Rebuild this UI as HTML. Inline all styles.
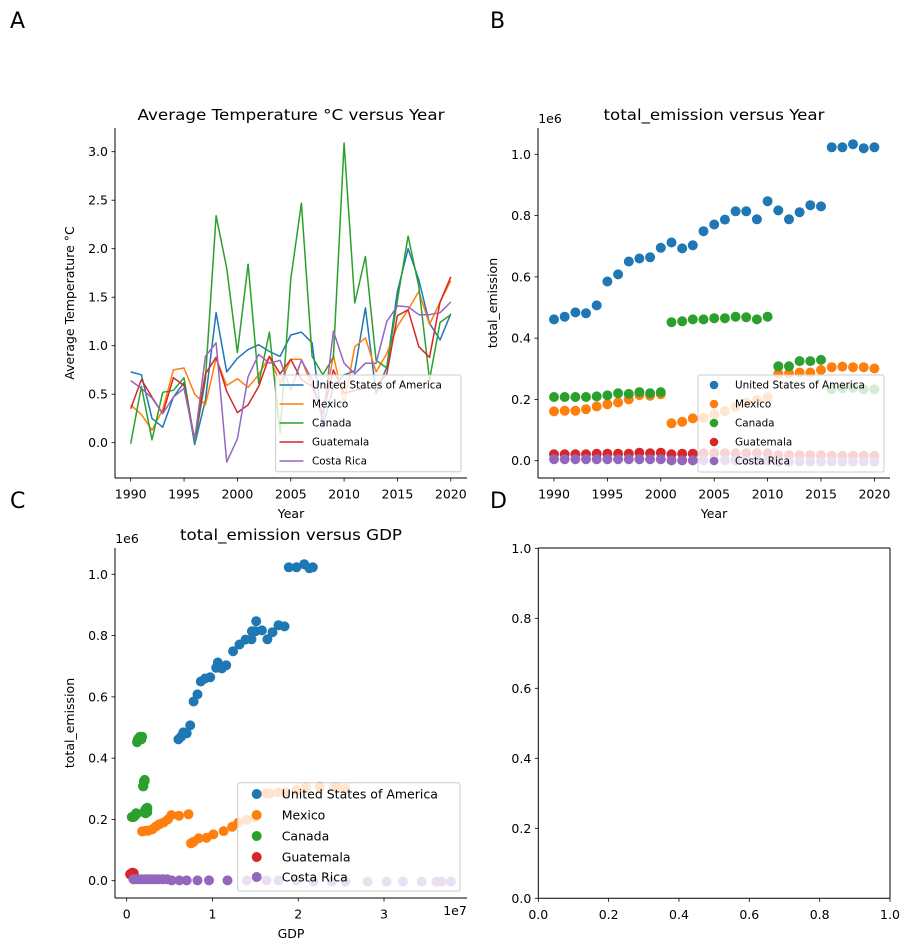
<!DOCTYPE html>
<html><head><meta charset="utf-8"><style>
html,body{margin:0;padding:0;background:#fff;}
svg{display:block;font-family:"DejaVu Sans","Liberation Sans",sans-serif;}
</style></head><body>
<svg id="fig" width="911" height="951" viewBox="0 0 911 951" xmlns="http://www.w3.org/2000/svg"></svg>
<script>
const countries = ["United States of America","Mexico","Canada","Guatemala","Costa Rica"];
const colors = ["#1f77b4","#ff7f0e","#2ca02c","#d62728","#9467bd"];
const years = [1990,1991,1992,1993,1994,1995,1996,1997,1998,1999,2000,2001,2002,2003,2004,2005,2006,2007,2008,2009,2010,2011,2012,2013,2014,2015,2016,2017,2018,2019,2020];
// Average temperature anomaly (°C)
const tempUSA = [0.73,0.70,0.25,0.16,0.47,0.62,-0.02,0.44,1.34,0.73,0.87,0.96,1.01,0.94,0.89,1.11,1.14,1.03,0.16,0.58,0.70,0.74,1.39,0.51,0.78,1.56,2.00,1.68,1.23,1.06,1.33];
const tempMEX = [0.39,0.29,0.13,0.34,0.75,0.77,0.50,0.39,0.87,0.59,0.66,0.57,0.70,0.89,0.61,0.86,0.86,0.58,0.30,0.90,0.40,0.99,1.08,0.73,0.92,1.20,1.37,1.56,1.22,1.45,1.67];
const tempCAN = [-0.01,0.58,0.03,0.52,0.54,0.67,0.00,0.65,2.34,1.80,0.93,1.84,0.61,1.14,0.10,1.69,2.47,0.89,0.70,0.88,3.09,1.44,1.92,0.85,0.77,1.47,2.13,1.61,0.65,1.24,1.32];
const tempGTM = [0.35,0.65,0.47,0.30,0.67,0.59,0.04,0.71,0.88,0.53,0.31,0.39,0.58,0.89,0.71,0.86,0.65,0.58,0.30,0.75,0.51,0.54,0.56,0.58,0.71,1.31,1.37,0.99,0.88,1.45,1.71];
const tempCRI = [0.64,0.56,0.46,0.30,0.47,0.56,0.03,0.89,1.03,-0.20,0.04,0.68,0.91,0.82,0.85,0.54,0.85,0.65,0.23,1.15,0.82,0.71,0.82,0.82,1.25,1.41,1.40,1.32,1.32,1.34,1.45];
// total emission (x1e6)
const emUSA = [0.461,0.470,0.484,0.481,0.507,0.585,0.608,0.650,0.660,0.664,0.695,0.712,0.693,0.703,0.749,0.771,0.787,0.814,0.814,0.788,0.847,0.817,0.788,0.811,0.834,0.830,1.023,1.023,1.033,1.020,1.023];
const emMEX = [0.161,0.163,0.163,0.168,0.177,0.184,0.190,0.200,0.214,0.212,0.217,0.122,0.127,0.138,0.140,0.151,0.162,0.176,0.189,0.198,0.207,0.285,0.285,0.288,0.288,0.296,0.305,0.307,0.305,0.305,0.301];
const emCAN = [0.208,0.208,0.208,0.208,0.210,0.213,0.220,0.218,0.224,0.220,0.224,0.452,0.455,0.461,0.461,0.465,0.465,0.470,0.468,0.461,0.470,0.308,0.308,0.325,0.325,0.329,0.233,0.236,0.238,0.233,0.233];
const emGTM = [0.021,0.021,0.021,0.021,0.023,0.023,0.023,0.023,0.026,0.024,0.026,0.021,0.023,0.023,0.024,0.024,0.024,0.024,0.024,0.024,0.024,0.018,0.018,0.018,0.018,0.018,0.016,0.016,0.016,0.016,0.016];
const emCRI = [0.005,0.005,0.005,0.005,0.005,0.005,0.005,0.005,0.005,0.005,0.005,0.001,0.001,0.001,0.001,0.001,0.001,0.001,0.001,0.001,0.001,-0.003,-0.003,-0.003,-0.003,-0.003,-0.003,-0.003,-0.003,-0.003,-0.003];
// GDP (x1e7)
const gdpUSA = [0.603,0.634,0.66,0.70,0.74,0.78,0.825,0.864,0.914,0.973,1.043,1.062,1.11,1.16,1.24,1.315,1.385,1.46,1.50,1.455,1.51,1.576,1.64,1.70,1.77,1.84,1.89,1.98,2.07,2.13,2.17];
const gdpMEX = [0.18,0.22,0.25,0.30,0.34,0.38,0.43,0.48,0.52,0.61,0.72,0.75,0.78,0.84,0.93,1.01,1.13,1.23,1.30,1.40,1.50,1.62,1.67,1.77,1.85,1.98,2.09,2.25,2.42,2.45,2.55];
const gdpCAN = [0.06,0.07,0.075,0.08,0.09,0.10,0.11,0.115,0.20,0.22,0.24,0.12,0.125,0.13,0.135,0.14,0.15,0.155,0.16,0.17,0.18,0.19,0.195,0.20,0.21,0.21,0.22,0.23,0.24,0.235,0.24];
const gdpGTM = [0.04,0.045,0.05,0.05,0.055,0.055,0.06,0.06,0.065,0.065,0.07,0.07,0.07,0.07,0.075,0.075,0.075,0.08,0.08,0.08,0.08,0.08,0.08,0.08,0.08,0.08,0.08,0.08,0.08,0.08,0.08];
const gdpCRI = [0.078,0.109,0.14,0.175,0.214,0.253,0.292,0.33,0.37,0.42,0.47,0.525,0.615,0.70,0.825,0.96,1.175,1.40,1.63,1.77,1.98,2.18,2.39,2.55,2.81,3.03,3.22,3.44,3.61,3.67,3.78];
const tickYears = [1990,1995,2000,2005,2010,2015,2020];
const tickTemp = [0.0,0.5,1.0,1.5,2.0,2.5,3.0];
const tickEm = [0.0,0.2,0.4,0.6,0.8,1.0];
const tickGdp = [0,1,2,3];
const tickUnit = [0.0,0.2,0.4,0.6,0.8,1.0];

const temps = [tempUSA,tempMEX,tempCAN,tempGTM,tempCRI];
const ems = [emUSA,emMEX,emCAN,emGTM,emCRI];
const gdps = [gdpUSA,gdpMEX,gdpCAN,gdpGTM,gdpCRI];

const NS = "http://www.w3.org/2000/svg";
const fig = document.getElementById('fig');
function mk(tag, attrs, parent){
  const e = document.createElementNS(NS, tag);
  for (const k in attrs) e.setAttribute(k, attrs[k]);
  (parent||fig).appendChild(e);
  return e;
}
function txt(s, attrs, parent){ const t = mk('text', attrs, parent); t.textContent = s; return t; }

// axis functions
const xA = yr => 130.7 + (yr-1990)*10.67;
const yA = v => 442.7 - v*97.0;
const xB = yr => 554 + (yr-1990)*10.68;
const yB = v => 460.7 - v*306.4;
const xC = g => 126.7 + g*85.77;
const yC = v => 880.7 - v*306.4;
const xD = v => 538.3 + v*351.7;
const yD = v => 898.3 - v*350;

function spines(l,t,r,b,full,name){
  const g = mk('g',{});
  
  
  mk('line',{x1:l,y1:t,x2:l,y2:b,stroke:'#000','stroke-width':1},g);
  mk('line',{x1:l,y1:b,x2:r,y2:b,stroke:'#000','stroke-width':1},g);
  if(full){
    mk('line',{x1:l,y1:t,x2:r,y2:t,stroke:'#000','stroke-width':1},g);
    mk('line',{x1:r,y1:t,x2:r,y2:b,stroke:'#000','stroke-width':1},g);
  }
}
function xticks(vals, fx, b, fmt, name){
  const g = mk('g',{});
  
  
  vals.forEach(v=>{
    const x = fx(v);
    mk('line',{x1:x,y1:b,x2:x,y2:b+3.5,stroke:'#000','stroke-width':0.8},g);
    const t = txt(fmt(v),{x:x,y:b+20.5,'font-size':12.5,'text-anchor':'middle',fill:'#000'},g);
    
    
  });
}
function yticks(vals, fy, l, fmt, name){
  const g = mk('g',{});
  
  
  vals.forEach(v=>{
    const y = fy(v);
    mk('line',{x1:l-3.5,y1:y,x2:l,y2:y,stroke:'#000','stroke-width':0.8},g);
    const t = txt(fmt(v),{x:l-7,y:y+4.5,'font-size':12.5,'text-anchor':'end',fill:'#000'},g);
    
    
  });
}
function label(s,x,y,size,name,rot,len){
  const a = {x:x,y:y,'font-size':size,'text-anchor':'middle',fill:'#000'};
  if(rot) a.transform = 'rotate(-90 '+x+' '+y+')';
  if(len){ a.textLength = len; a.lengthAdjust='spacingAndGlyphs'; }
  const t = txt(s,a);
  
  
}

// panel letters
[['A',10,28],['B',490,28],['C',10,508],['D',490,508]].forEach(p=>{
  const t = txt(p[0],{x:p[1],y:p[2],'font-size':22,fill:'#000'});
  
  
});

// ---------- Panel A ----------
temps.forEach((arr,i)=>{
  const d = arr.map((v,j)=>(j?'L':'M')+xA(years[j]).toFixed(1)+' '+yA(v).toFixed(1)).join(' ');
  const p = mk('path',{d:d,fill:'none',stroke:colors[i],'stroke-width':1.5,'stroke-linejoin':'round'});
  
  
});
spines(115,128,467,478,false,'panel-a');
xticks(tickYears,xA,478,v=>String(v),'panel-a-x-ticks');
yticks(tickTemp,yA,115,v=>v.toFixed(1),'panel-a-y-ticks');
label('Average Temperature °C versus Year',291,120,15,'panel-a-title',false,307);
label('Year',291,518,12.5,'panel-a-x-axis-title');
label('Average Temperature °C',74,303,12.5,'panel-a-y-axis-title',true);

function legend(x,y,w,h,rowY,mx,tx,size,kind,name){
  const g = mk('g',{});
  
  
  mk('rect',{x:x,y:y,width:w,height:h,rx:2,fill:'#fff','fill-opacity':0.8,stroke:'#ccc','stroke-width':1},g);
  countries.forEach((c,i)=>{
    const e = mk('g',{},g);
    
    
    if(kind==='line') mk('line',{x1:mx-12,y1:rowY[i],x2:mx+12,y2:rowY[i],stroke:colors[i],'stroke-width':1.5},e);
    else mk('circle',{cx:mx,cy:rowY[i],r:kind==='big'?5:4.3,fill:colors[i]},e);
    txt(c,{x:tx,y:rowY[i]+size*0.36,'font-size':size,fill:'#000'},e);
  });
}
legend(275.7,375,185.3,96.7,[385,404,423,442,461],291.5,312,10.4,'line','panel-a-legend');

// ---------- Panel B ----------
ems.forEach((arr,i)=>{
  const g = mk('g',{});
  
  
  arr.forEach((v,j)=>{
    const c = mk('circle',{cx:xB(years[j]).toFixed(1),cy:yB(v).toFixed(1),r:5,fill:colors[i]},g);
    
    
  });
});
spines(538,128,890,478,false,'panel-b');
xticks(tickYears,xB,478,v=>String(v),'panel-b-x-ticks');
yticks(tickEm,yB,538,v=>v.toFixed(1),'panel-b-y-ticks');
label('total_emission versus Year',714,120,15,'panel-b-title',false,221);
label('1e6',550,123,12.5,'panel-b-y-offset');
label('Year',714,518,12.5,'panel-b-x-axis-title');
label('total_emission',497,303,12.5,'panel-b-y-axis-title',true);
legend(698,375,186,97,[385,404,423,442,461],714,735,10.4,'dot','panel-b-legend');

// ---------- Panel C ----------
gdps.forEach((arr,i)=>{
  const g = mk('g',{});
  
  
  arr.forEach((v,j)=>{
    const c = mk('circle',{cx:xC(v).toFixed(1),cy:yC(ems[i][j]).toFixed(1),r:5,fill:colors[i]},g);
    
    
  });
});
spines(115,548,467,898,false,'panel-c');
xticks(tickGdp,xC,898,v=>String(v),'panel-c-x-ticks');
yticks(tickEm,yC,115,v=>v.toFixed(1),'panel-c-y-ticks');
label('total_emission versus GDP',291,540,15,'panel-c-title',false,222);
label('1e6',127,543,12.5,'panel-c-y-offset');
label('1e7',455,915,12.5,'panel-c-x-offset');
label('GDP',291,938,12.5,'panel-c-x-axis-title');
label('total_emission',74,723,12.5,'panel-c-y-axis-title',true);
legend(237.7,782.7,222.3,108.3,[794,815,836,857,877],256.7,281.7,12.5,'big','panel-c-legend');

// ---------- Panel D ----------
spines(538.3,548,890,898.3,true,'panel-d');
xticks(tickUnit,xD,898.3,v=>v.toFixed(1),'panel-d-x-ticks');
yticks(tickUnit,yD,538.3,v=>v.toFixed(1),'panel-d-y-ticks');
</script>
</body></html>
